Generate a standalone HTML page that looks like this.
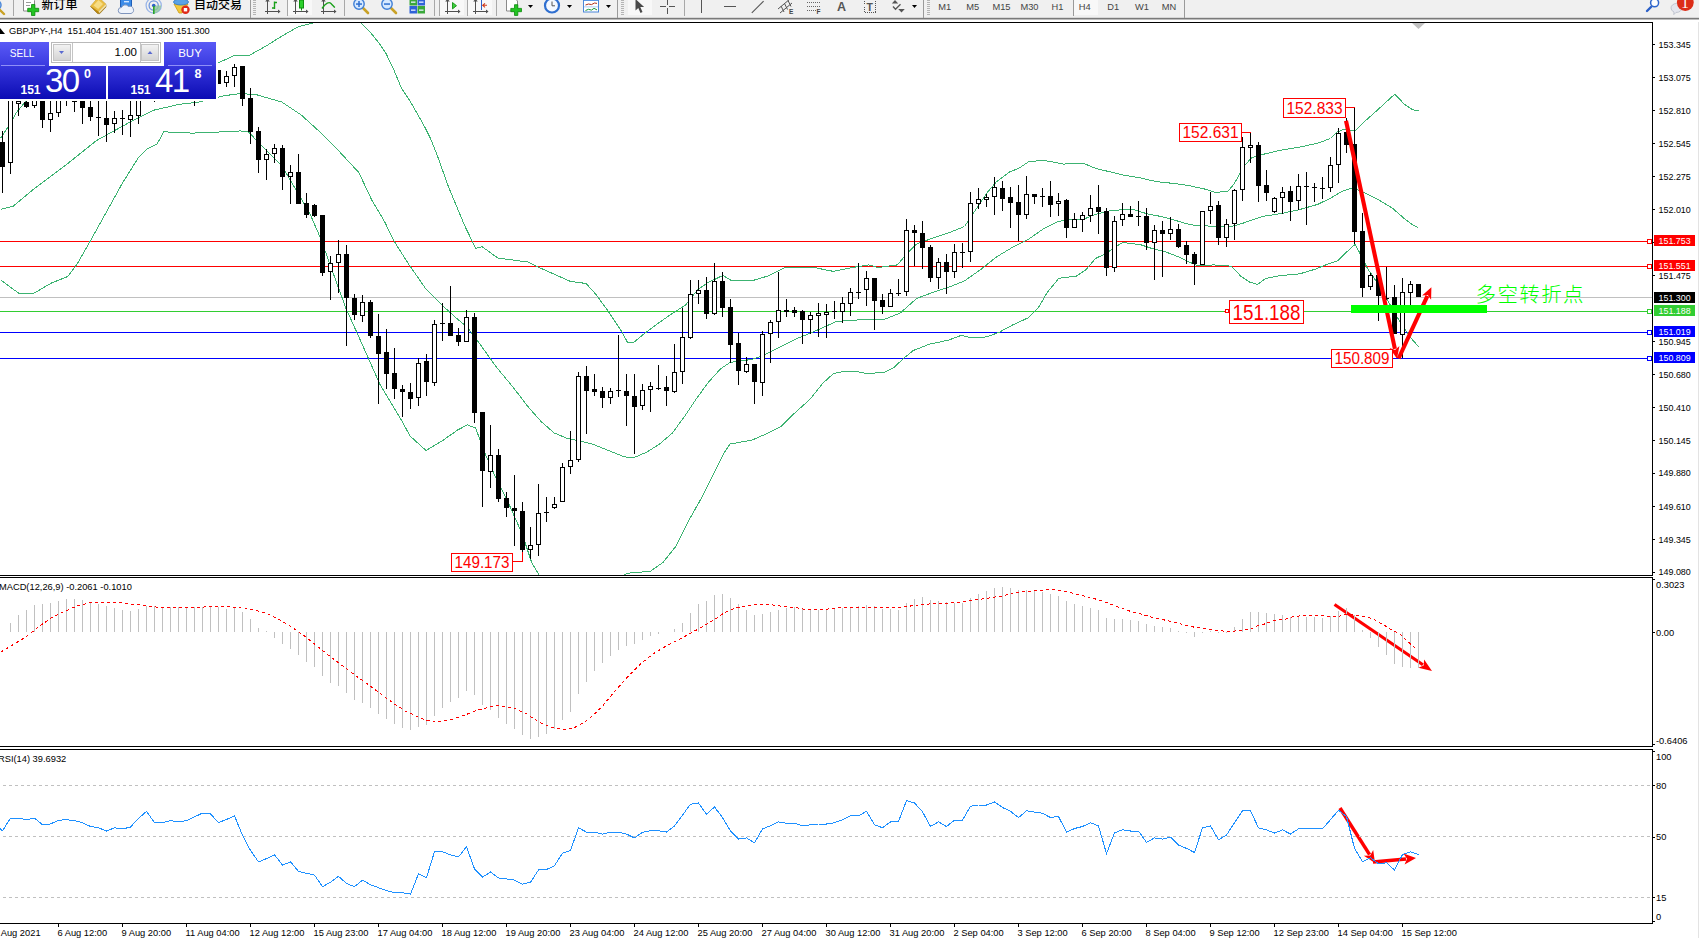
<!DOCTYPE html>
<html lang="zh"><head><meta charset="utf-8"><title>GBPJPY H4</title>
<style>
html,body{margin:0;padding:0;background:#fff;}
body{width:1699px;height:938px;overflow:hidden;position:relative;font-family:"Liberation Sans", "Noto Sans CJK SC", sans-serif;}
#tb{position:absolute;left:0;top:0;width:1699px;height:22px;background:#fff;overflow:hidden;}
#tb .bg{position:absolute;left:0;top:0;width:100%;height:18px;background:#f0f0f0;}
#tb .l1{position:absolute;left:0;top:17px;width:100%;height:1px;background:#d8d8d8;}
#tb .l2{position:absolute;left:0;top:18px;width:100%;height:1px;background:#7a7a7a;}
#tb .l3{position:absolute;left:0;top:19px;width:100%;height:1px;background:#bdbdbd;}
#chart{position:absolute;left:0;top:0;}
#chart text{font-family:"Liberation Sans", "Noto Sans CJK SC", sans-serif;}
.zh{position:absolute;top:-1.7px;font-size:12px;line-height:14px;color:#000;white-space:nowrap;font-weight:500;}
.tf{position:absolute;top:1.6px;font-size:9.3px;line-height:11px;color:#444;transform:translateX(-50%);white-space:nowrap;}
#oct{position:absolute;left:0;top:42px;width:218px;height:59px;background:#fff;}
#oct .btn{position:absolute;color:#fff;text-align:center;}
.grad1{background:linear-gradient(#5a5af6,#3a3ae0);}
.grad2{background:linear-gradient(#3636dc,#0c0cb4);}
</style></head><body>
<svg id="chart" width="1699" height="938" viewBox="0 0 1699 938">
<defs><clipPath id="mainclip"><rect x="0" y="23" width="1652" height="552"/></clipPath></defs>
<g shape-rendering="crispEdges">
<rect x="0" y="22" width="1653" height="1" fill="#000"/>
<rect x="1652" y="22" width="1" height="554" fill="#000"/>
<rect x="0" y="575" width="1653" height="1" fill="#000"/>
<rect x="0" y="577" width="1653" height="1" fill="#000"/>
<rect x="1652" y="577" width="1" height="170" fill="#000"/>
<rect x="0" y="746" width="1653" height="1" fill="#000"/>
<rect x="0" y="749" width="1653" height="1" fill="#000"/>
<rect x="1652" y="749" width="1" height="175" fill="#000"/>
<rect x="0" y="923" width="1653" height="1" fill="#000"/>
<rect x="1698" y="20" width="1" height="918" fill="#e3e3e3"/>
<rect x="0" y="241" width="1652" height="1" fill="#ff0000"/>
<rect x="0" y="266" width="1652" height="1" fill="#ff0000"/>
<rect x="0" y="297" width="1652" height="1" fill="#c0c0c0"/>
<rect x="0" y="311" width="1652" height="1" fill="#32cd32"/>
<rect x="0" y="332" width="1652" height="1" fill="#0000ff"/>
<rect x="0" y="358" width="1652" height="1" fill="#0000ff"/>
</g>
<g clip-path="url(#mainclip)">
<polyline points="0.5,138.1 8.5,126.5 16.5,112.5 25.5,101.5 40.5,92.5 80.5,85.5 140.5,76.5 190.5,68.5 216.5,63.7 234.0,55.7 250.0,55.0 266.0,46.1 278.5,38.1 298.0,26.9 312.5,23.1 320.5,19.5 340.5,15.5 355.5,18.5 362.0,24.0 370.5,32.5 379.8,44.1 386.0,53.4 393.7,69.6 401.5,88.2 409.2,99.7 416.9,112.9 424.6,126.8 430.8,139.2 437.0,154.6 448.5,186.9 464.5,225.3 475.7,248.3 482.1,246.7 498.1,258.2 509.3,259.5 528.5,262.1 541.3,268.5 570.1,281.3 586.1,283.5 595.7,294.1 608.5,311.7 621.3,330.9 627.7,342.7 634.1,342.1 643.7,334.1 656.5,324.5 672.5,313.3 685.3,305.3 698.0,289.3 707.5,282.9 720.5,276.5 723.5,275.8 731.5,280.6 752.5,280.6 768.5,275.8 784.5,267.8 803.5,267.2 816.5,267.8 826.0,270.1 833.3,271.3 852.5,267.5 868.5,264.9 878.1,267.5 897.3,264.9 906.9,253.7 916.5,244.1 929.3,239.3 948.5,232.9 964.5,226.5 977.3,207.3 986.9,192.9 996.5,181.7 1009.3,172.1 1018.9,168.3 1028.5,161.9 1041.3,160.3 1050.9,161.5 1063.7,164.1 1082.9,163.1 1095.5,168.3 1108.5,171.5 1124.5,175.3 1140.5,177.9 1156.5,181.7 1172.5,183.3 1188.5,185.5 1204.5,189.0 1216.0,192.5 1228.3,191.0 1234.5,183.3 1243.8,166.3 1251.5,157.9 1262.4,154.5 1280.9,150.2 1299.5,147.1 1318.0,143.1 1330.5,138.5 1336.5,132.3 1344.3,129.2 1355.2,130.7 1361.3,124.5 1376.8,110.6 1394.7,94.2 1404.6,104.4 1412.4,109.7 1418.5,110.9" fill="none" stroke="#3cb371" stroke-width="1" shape-rendering="crispEdges"/>
<polyline points="0.5,209.3 13.3,206.1 32.5,190.1 64.5,166.1 96.5,140.5 128.5,122.9 154.1,110.1 179.5,104.3 198.9,102.1 224.5,95.7 240.5,93.5 256.5,94.7 282.0,102.1 301.2,114.9 320.5,132.5 339.5,151.7 358.8,172.5 372.0,200.5 384.5,221.5 394.3,241.5 408.4,263.8 414.5,272.5 426.1,289.3 442.1,305.3 458.1,319.7 467.5,327.3 480.5,344.9 496.5,367.3 512.5,386.5 528.5,407.3 541.3,421.7 554.1,432.9 566.9,438.3 579.5,440.9 592.5,444.1 608.5,450.5 624.5,456.9 634.1,457.5 646.9,452.1 659.5,444.1 672.5,432.9 685.3,415.3 694.9,400.9 707.5,383.3 720.5,368.9 730.0,362.5 752.5,359.3 762.0,356.1 778.0,348.1 797.2,338.5 816.5,330.5 830.5,324.1 836.5,321.5 858.9,319.9 884.5,319.3 900.5,312.9 916.5,298.5 929.3,293.7 948.5,287.3 964.5,280.9 980.5,269.7 996.5,256.9 1012.5,247.3 1028.5,239.3 1044.5,228.1 1057.3,221.7 1066.9,220.1 1082.9,219.5 1095.5,214.3 1108.5,211.1 1124.5,209.5 1134.0,209.8 1146.8,213.7 1159.5,216.2 1172.5,219.5 1185.2,223.3 1194.8,225.5 1204.5,225.8 1217.2,226.5 1231.5,226.5 1243.8,222.9 1262.4,216.4 1280.9,213.6 1299.5,209.6 1318.0,204.3 1330.5,198.1 1342.8,191.0 1352.1,187.9 1361.3,191.0 1376.8,198.8 1392.3,208.0 1404.6,218.9 1413.9,225.7 1418.5,227.5" fill="none" stroke="#3cb371" stroke-width="1" shape-rendering="crispEdges"/>
<polyline points="0.5,279.7 19.7,294.0 34.1,293.1 51.7,282.9 67.7,276.5 77.3,263.7 90.1,241.3 106.1,212.5 122.1,183.7 138.1,158.1 147.7,148.5 157.3,143.7 163.7,131.8 192.5,133.1 224.5,131.8 240.5,130.9 248.5,131.8 256.5,140.5 266.0,150.1 282.0,166.1 298.0,193.3 310.8,215.7 320.5,238.1 333.2,273.3 346.0,308.5 360.5,340.5 380.5,385.5 400.5,418.5 410.1,436.1 426.1,450.5 442.1,440.9 458.1,429.7 467.5,424.9 475.7,428.1 483.7,450.5 496.5,479.3 509.3,504.9 522.1,533.7 531.7,562.5 538.7,574.5 545.5,580.5 600.5,585.5 618.5,580.5 624.5,574.5 630.9,572.7 650.1,571.5 662.9,562.5 675.7,546.5 688.5,520.9 701.2,498.5 714.0,472.9 723.5,453.7 730.0,444.1 752.5,439.9 768.5,432.9 781.2,426.5 794.0,413.7 810.0,399.3 822.8,383.3 833.3,373.7 842.9,371.5 855.7,371.5 868.5,373.7 884.5,372.1 894.1,367.3 903.7,358.3 913.3,350.5 929.3,344.2 948.5,340.1 961.3,335.3 970.9,337.8 986.9,336.9 999.5,332.1 1012.5,325.0 1028.5,317.7 1038.1,308.1 1047.5,292.1 1058.8,278.3 1076.5,276.1 1086.0,269.7 1095.5,258.5 1106.8,253.0 1114.8,247.3 1122.8,242.5 1140.5,244.7 1153.2,248.9 1166.0,252.1 1178.8,256.9 1188.5,261.7 1198.0,265.8 1214.0,264.9 1231.5,266.2 1240.7,276.1 1250.0,282.3 1257.7,284.4 1265.5,278.6 1280.9,275.5 1299.5,273.9 1314.9,269.3 1327.3,264.3 1338.1,260.6 1347.4,251.3 1355.2,244.2 1361.3,256.0 1367.5,268.4 1376.8,282.3 1386.1,297.7 1398.5,319.4 1410.8,337.9 1418.5,346.6" fill="none" stroke="#3cb371" stroke-width="1" shape-rendering="crispEdges"/>
</g>
<g shape-rendering="crispEdges" clip-path="url(#mainclip)">
<rect x="2" y="131" width="1" height="62" fill="#000"/>
<rect x="0" y="142" width="5" height="25" fill="#000"/>
<rect x="10" y="90" width="1" height="84" fill="#000"/>
<rect x="8" y="92" width="5" height="71" fill="#000"/>
<rect x="9" y="93" width="3" height="69" fill="#fff"/>
<rect x="18" y="90" width="1" height="26" fill="#000"/>
<rect x="16" y="101" width="5" height="3" fill="#000"/>
<rect x="17" y="102" width="3" height="1" fill="#fff"/>
<rect x="26" y="97" width="1" height="11" fill="#000"/>
<rect x="24" y="102" width="5" height="5" fill="#000"/>
<rect x="34" y="90" width="1" height="18" fill="#000"/>
<rect x="32" y="92" width="5" height="14" fill="#000"/>
<rect x="33" y="93" width="3" height="12" fill="#fff"/>
<rect x="42" y="90" width="1" height="38" fill="#000"/>
<rect x="40" y="95" width="5" height="25" fill="#000"/>
<rect x="50" y="90" width="1" height="42" fill="#000"/>
<rect x="48" y="113" width="5" height="7" fill="#000"/>
<rect x="49" y="114" width="3" height="5" fill="#fff"/>
<rect x="58" y="90" width="1" height="27" fill="#000"/>
<rect x="56" y="95" width="5" height="18" fill="#000"/>
<rect x="57" y="96" width="3" height="16" fill="#fff"/>
<rect x="66" y="90" width="1" height="16" fill="#000"/>
<rect x="64" y="92" width="5" height="4" fill="#000"/>
<rect x="74" y="96" width="1" height="16" fill="#000"/>
<rect x="72" y="101" width="5" height="1" fill="#000"/>
<rect x="82" y="95" width="1" height="29" fill="#000"/>
<rect x="80" y="98" width="5" height="10" fill="#000"/>
<rect x="90" y="97" width="1" height="24" fill="#000"/>
<rect x="88" y="107" width="5" height="10" fill="#000"/>
<rect x="98" y="95" width="1" height="41" fill="#000"/>
<rect x="96" y="117" width="5" height="1" fill="#000"/>
<rect x="106" y="95" width="1" height="47" fill="#000"/>
<rect x="104" y="118" width="5" height="7" fill="#000"/>
<rect x="114" y="111" width="1" height="22" fill="#000"/>
<rect x="112" y="118" width="5" height="6" fill="#000"/>
<rect x="113" y="119" width="3" height="4" fill="#fff"/>
<rect x="122" y="110" width="1" height="25" fill="#000"/>
<rect x="120" y="118" width="5" height="1" fill="#000"/>
<rect x="130" y="95" width="1" height="42" fill="#000"/>
<rect x="128" y="115" width="5" height="5" fill="#000"/>
<rect x="129" y="116" width="3" height="3" fill="#fff"/>
<rect x="138" y="90" width="1" height="34" fill="#000"/>
<rect x="136" y="95" width="5" height="21" fill="#000"/>
<rect x="137" y="96" width="3" height="19" fill="#fff"/>
<rect x="146" y="80" width="1" height="16" fill="#000"/>
<rect x="144" y="84" width="5" height="8" fill="#000"/>
<rect x="154" y="80" width="1" height="22" fill="#000"/>
<rect x="152" y="86" width="5" height="6" fill="#000"/>
<rect x="153" y="87" width="3" height="4" fill="#fff"/>
<rect x="162" y="78" width="1" height="17" fill="#000"/>
<rect x="160" y="82" width="5" height="8" fill="#000"/>
<rect x="170" y="76" width="1" height="17" fill="#000"/>
<rect x="168" y="80" width="5" height="8" fill="#000"/>
<rect x="169" y="81" width="3" height="6" fill="#fff"/>
<rect x="178" y="75" width="1" height="20" fill="#000"/>
<rect x="176" y="80" width="5" height="6" fill="#000"/>
<rect x="186" y="76" width="1" height="20" fill="#000"/>
<rect x="184" y="82" width="5" height="6" fill="#000"/>
<rect x="185" y="83" width="3" height="4" fill="#fff"/>
<rect x="194" y="76" width="1" height="30" fill="#000"/>
<rect x="192" y="84" width="5" height="6" fill="#000"/>
<rect x="202" y="74" width="1" height="18" fill="#000"/>
<rect x="200" y="78" width="5" height="8" fill="#000"/>
<rect x="201" y="79" width="3" height="6" fill="#fff"/>
<rect x="210" y="68" width="1" height="20" fill="#000"/>
<rect x="208" y="72" width="5" height="8" fill="#000"/>
<rect x="209" y="73" width="3" height="6" fill="#fff"/>
<rect x="218" y="70" width="1" height="14" fill="#000"/>
<rect x="216" y="70" width="5" height="14" fill="#000"/>
<rect x="226" y="71" width="1" height="16" fill="#000"/>
<rect x="224" y="76" width="5" height="7" fill="#000"/>
<rect x="225" y="77" width="3" height="5" fill="#fff"/>
<rect x="234" y="64" width="1" height="23" fill="#000"/>
<rect x="232" y="67" width="5" height="9" fill="#000"/>
<rect x="233" y="68" width="3" height="7" fill="#fff"/>
<rect x="242" y="66" width="1" height="40" fill="#000"/>
<rect x="240" y="66" width="5" height="33" fill="#000"/>
<rect x="250" y="88" width="1" height="56" fill="#000"/>
<rect x="248" y="98" width="5" height="34" fill="#000"/>
<rect x="258" y="127" width="1" height="46" fill="#000"/>
<rect x="256" y="131" width="5" height="29" fill="#000"/>
<rect x="266" y="149" width="1" height="31" fill="#000"/>
<rect x="264" y="154" width="5" height="6" fill="#000"/>
<rect x="265" y="155" width="3" height="4" fill="#fff"/>
<rect x="274" y="144" width="1" height="19" fill="#000"/>
<rect x="272" y="148" width="5" height="6" fill="#000"/>
<rect x="273" y="149" width="3" height="4" fill="#fff"/>
<rect x="282" y="145" width="1" height="45" fill="#000"/>
<rect x="280" y="148" width="5" height="29" fill="#000"/>
<rect x="290" y="165" width="1" height="39" fill="#000"/>
<rect x="288" y="172" width="5" height="5" fill="#000"/>
<rect x="289" y="173" width="3" height="3" fill="#fff"/>
<rect x="298" y="154" width="1" height="50" fill="#000"/>
<rect x="296" y="172" width="5" height="32" fill="#000"/>
<rect x="306" y="193" width="1" height="25" fill="#000"/>
<rect x="304" y="203" width="5" height="12" fill="#000"/>
<rect x="314" y="204" width="1" height="13" fill="#000"/>
<rect x="312" y="205" width="5" height="11" fill="#000"/>
<rect x="322" y="215" width="1" height="61" fill="#000"/>
<rect x="320" y="215" width="5" height="58" fill="#000"/>
<rect x="330" y="256" width="1" height="44" fill="#000"/>
<rect x="328" y="263" width="5" height="9" fill="#000"/>
<rect x="329" y="264" width="3" height="7" fill="#fff"/>
<rect x="338" y="240" width="1" height="53" fill="#000"/>
<rect x="336" y="254" width="5" height="9" fill="#000"/>
<rect x="337" y="255" width="3" height="7" fill="#fff"/>
<rect x="346" y="245" width="1" height="101" fill="#000"/>
<rect x="344" y="254" width="5" height="44" fill="#000"/>
<rect x="354" y="294" width="1" height="26" fill="#000"/>
<rect x="352" y="298" width="5" height="17" fill="#000"/>
<rect x="362" y="295" width="1" height="27" fill="#000"/>
<rect x="360" y="302" width="5" height="14" fill="#000"/>
<rect x="361" y="303" width="3" height="12" fill="#fff"/>
<rect x="370" y="300" width="1" height="38" fill="#000"/>
<rect x="368" y="302" width="5" height="34" fill="#000"/>
<rect x="378" y="314" width="1" height="90" fill="#000"/>
<rect x="376" y="336" width="5" height="18" fill="#000"/>
<rect x="386" y="329" width="1" height="60" fill="#000"/>
<rect x="384" y="352" width="5" height="22" fill="#000"/>
<rect x="394" y="348" width="1" height="51" fill="#000"/>
<rect x="392" y="373" width="5" height="16" fill="#000"/>
<rect x="402" y="385" width="1" height="32" fill="#000"/>
<rect x="400" y="389" width="5" height="3" fill="#000"/>
<rect x="410" y="383" width="1" height="26" fill="#000"/>
<rect x="408" y="392" width="5" height="7" fill="#000"/>
<rect x="418" y="358" width="1" height="48" fill="#000"/>
<rect x="416" y="363" width="5" height="35" fill="#000"/>
<rect x="417" y="364" width="3" height="33" fill="#fff"/>
<rect x="426" y="354" width="1" height="42" fill="#000"/>
<rect x="424" y="361" width="5" height="21" fill="#000"/>
<rect x="434" y="320" width="1" height="66" fill="#000"/>
<rect x="432" y="324" width="5" height="59" fill="#000"/>
<rect x="433" y="325" width="3" height="57" fill="#fff"/>
<rect x="442" y="303" width="1" height="38" fill="#000"/>
<rect x="440" y="323" width="5" height="1" fill="#000"/>
<rect x="450" y="286" width="1" height="50" fill="#000"/>
<rect x="448" y="323" width="5" height="13" fill="#000"/>
<rect x="458" y="328" width="1" height="18" fill="#000"/>
<rect x="456" y="335" width="5" height="7" fill="#000"/>
<rect x="466" y="310" width="1" height="32" fill="#000"/>
<rect x="464" y="317" width="5" height="25" fill="#000"/>
<rect x="465" y="318" width="3" height="23" fill="#fff"/>
<rect x="474" y="313" width="1" height="110" fill="#000"/>
<rect x="472" y="317" width="5" height="96" fill="#000"/>
<rect x="482" y="412" width="1" height="95" fill="#000"/>
<rect x="480" y="412" width="5" height="59" fill="#000"/>
<rect x="490" y="425" width="1" height="63" fill="#000"/>
<rect x="488" y="455" width="5" height="17" fill="#000"/>
<rect x="489" y="456" width="3" height="15" fill="#fff"/>
<rect x="498" y="449" width="1" height="53" fill="#000"/>
<rect x="496" y="455" width="5" height="44" fill="#000"/>
<rect x="506" y="492" width="1" height="25" fill="#000"/>
<rect x="504" y="498" width="5" height="10" fill="#000"/>
<rect x="514" y="475" width="1" height="71" fill="#000"/>
<rect x="512" y="508" width="5" height="3" fill="#000"/>
<rect x="522" y="502" width="1" height="59" fill="#000"/>
<rect x="520" y="511" width="5" height="39" fill="#000"/>
<rect x="530" y="527" width="1" height="32" fill="#000"/>
<rect x="528" y="545" width="5" height="5" fill="#000"/>
<rect x="529" y="546" width="3" height="3" fill="#fff"/>
<rect x="538" y="484" width="1" height="72" fill="#000"/>
<rect x="536" y="513" width="5" height="32" fill="#000"/>
<rect x="537" y="514" width="3" height="30" fill="#fff"/>
<rect x="546" y="497" width="1" height="25" fill="#000"/>
<rect x="544" y="512" width="5" height="1" fill="#000"/>
<rect x="554" y="497" width="1" height="12" fill="#000"/>
<rect x="552" y="504" width="5" height="4" fill="#000"/>
<rect x="553" y="505" width="3" height="2" fill="#fff"/>
<rect x="562" y="463" width="1" height="39" fill="#000"/>
<rect x="560" y="467" width="5" height="35" fill="#000"/>
<rect x="561" y="468" width="3" height="33" fill="#fff"/>
<rect x="570" y="431" width="1" height="43" fill="#000"/>
<rect x="568" y="460" width="5" height="7" fill="#000"/>
<rect x="569" y="461" width="3" height="5" fill="#fff"/>
<rect x="578" y="372" width="1" height="90" fill="#000"/>
<rect x="576" y="376" width="5" height="84" fill="#000"/>
<rect x="577" y="377" width="3" height="82" fill="#fff"/>
<rect x="586" y="366" width="1" height="68" fill="#000"/>
<rect x="584" y="376" width="5" height="15" fill="#000"/>
<rect x="594" y="374" width="1" height="22" fill="#000"/>
<rect x="592" y="389" width="5" height="3" fill="#000"/>
<rect x="602" y="387" width="1" height="21" fill="#000"/>
<rect x="600" y="391" width="5" height="7" fill="#000"/>
<rect x="610" y="388" width="1" height="16" fill="#000"/>
<rect x="608" y="391" width="5" height="7" fill="#000"/>
<rect x="609" y="392" width="3" height="5" fill="#fff"/>
<rect x="618" y="335" width="1" height="62" fill="#000"/>
<rect x="616" y="390" width="5" height="1" fill="#000"/>
<rect x="626" y="374" width="1" height="52" fill="#000"/>
<rect x="624" y="391" width="5" height="5" fill="#000"/>
<rect x="634" y="374" width="1" height="80" fill="#000"/>
<rect x="632" y="396" width="5" height="11" fill="#000"/>
<rect x="642" y="384" width="1" height="26" fill="#000"/>
<rect x="640" y="390" width="5" height="16" fill="#000"/>
<rect x="641" y="391" width="3" height="14" fill="#fff"/>
<rect x="650" y="382" width="1" height="30" fill="#000"/>
<rect x="648" y="386" width="5" height="4" fill="#000"/>
<rect x="649" y="387" width="3" height="2" fill="#fff"/>
<rect x="658" y="365" width="1" height="25" fill="#000"/>
<rect x="656" y="388" width="5" height="1" fill="#000"/>
<rect x="666" y="376" width="1" height="30" fill="#000"/>
<rect x="664" y="387" width="5" height="4" fill="#000"/>
<rect x="674" y="344" width="1" height="49" fill="#000"/>
<rect x="672" y="372" width="5" height="20" fill="#000"/>
<rect x="673" y="373" width="3" height="18" fill="#fff"/>
<rect x="682" y="308" width="1" height="76" fill="#000"/>
<rect x="680" y="337" width="5" height="35" fill="#000"/>
<rect x="681" y="338" width="3" height="33" fill="#fff"/>
<rect x="690" y="280" width="1" height="59" fill="#000"/>
<rect x="688" y="294" width="5" height="44" fill="#000"/>
<rect x="689" y="295" width="3" height="42" fill="#fff"/>
<rect x="698" y="280" width="1" height="24" fill="#000"/>
<rect x="696" y="290" width="5" height="4" fill="#000"/>
<rect x="697" y="291" width="3" height="2" fill="#fff"/>
<rect x="706" y="277" width="1" height="42" fill="#000"/>
<rect x="704" y="290" width="5" height="24" fill="#000"/>
<rect x="714" y="263" width="1" height="52" fill="#000"/>
<rect x="712" y="281" width="5" height="33" fill="#000"/>
<rect x="713" y="282" width="3" height="31" fill="#fff"/>
<rect x="722" y="272" width="1" height="45" fill="#000"/>
<rect x="720" y="281" width="5" height="27" fill="#000"/>
<rect x="730" y="299" width="1" height="64" fill="#000"/>
<rect x="728" y="307" width="5" height="38" fill="#000"/>
<rect x="738" y="333" width="1" height="52" fill="#000"/>
<rect x="736" y="343" width="5" height="28" fill="#000"/>
<rect x="746" y="357" width="1" height="16" fill="#000"/>
<rect x="744" y="364" width="5" height="8" fill="#000"/>
<rect x="745" y="365" width="3" height="6" fill="#fff"/>
<rect x="754" y="364" width="1" height="40" fill="#000"/>
<rect x="752" y="364" width="5" height="18" fill="#000"/>
<rect x="762" y="331" width="1" height="65" fill="#000"/>
<rect x="760" y="334" width="5" height="49" fill="#000"/>
<rect x="761" y="335" width="3" height="47" fill="#fff"/>
<rect x="770" y="320" width="1" height="43" fill="#000"/>
<rect x="768" y="322" width="5" height="12" fill="#000"/>
<rect x="769" y="323" width="3" height="10" fill="#fff"/>
<rect x="778" y="272" width="1" height="66" fill="#000"/>
<rect x="776" y="310" width="5" height="12" fill="#000"/>
<rect x="777" y="311" width="3" height="10" fill="#fff"/>
<rect x="786" y="299" width="1" height="18" fill="#000"/>
<rect x="784" y="310" width="5" height="2" fill="#000"/>
<rect x="794" y="307" width="1" height="10" fill="#000"/>
<rect x="792" y="310" width="5" height="3" fill="#000"/>
<rect x="802" y="310" width="1" height="34" fill="#000"/>
<rect x="800" y="311" width="5" height="9" fill="#000"/>
<rect x="810" y="312" width="1" height="22" fill="#000"/>
<rect x="808" y="315" width="5" height="5" fill="#000"/>
<rect x="809" y="316" width="3" height="3" fill="#fff"/>
<rect x="818" y="303" width="1" height="34" fill="#000"/>
<rect x="816" y="313" width="5" height="3" fill="#000"/>
<rect x="817" y="314" width="3" height="1" fill="#fff"/>
<rect x="826" y="304" width="1" height="34" fill="#000"/>
<rect x="824" y="312" width="5" height="3" fill="#000"/>
<rect x="825" y="313" width="3" height="1" fill="#fff"/>
<rect x="834" y="301" width="1" height="18" fill="#000"/>
<rect x="832" y="311" width="5" height="1" fill="#000"/>
<rect x="842" y="297" width="1" height="26" fill="#000"/>
<rect x="840" y="303" width="5" height="9" fill="#000"/>
<rect x="841" y="304" width="3" height="7" fill="#fff"/>
<rect x="850" y="288" width="1" height="28" fill="#000"/>
<rect x="848" y="292" width="5" height="12" fill="#000"/>
<rect x="849" y="293" width="3" height="10" fill="#fff"/>
<rect x="858" y="263" width="1" height="36" fill="#000"/>
<rect x="856" y="292" width="5" height="1" fill="#000"/>
<rect x="866" y="271" width="1" height="35" fill="#000"/>
<rect x="864" y="278" width="5" height="12" fill="#000"/>
<rect x="865" y="279" width="3" height="10" fill="#fff"/>
<rect x="874" y="278" width="1" height="52" fill="#000"/>
<rect x="872" y="278" width="5" height="23" fill="#000"/>
<rect x="882" y="294" width="1" height="20" fill="#000"/>
<rect x="880" y="300" width="5" height="7" fill="#000"/>
<rect x="890" y="289" width="1" height="18" fill="#000"/>
<rect x="888" y="293" width="5" height="14" fill="#000"/>
<rect x="889" y="294" width="3" height="12" fill="#fff"/>
<rect x="898" y="279" width="1" height="17" fill="#000"/>
<rect x="896" y="293" width="5" height="1" fill="#000"/>
<rect x="906" y="219" width="1" height="77" fill="#000"/>
<rect x="904" y="230" width="5" height="62" fill="#000"/>
<rect x="905" y="231" width="3" height="60" fill="#fff"/>
<rect x="914" y="225" width="1" height="41" fill="#000"/>
<rect x="912" y="230" width="5" height="3" fill="#000"/>
<rect x="922" y="221" width="1" height="48" fill="#000"/>
<rect x="920" y="233" width="5" height="15" fill="#000"/>
<rect x="930" y="245" width="1" height="37" fill="#000"/>
<rect x="928" y="247" width="5" height="31" fill="#000"/>
<rect x="938" y="258" width="1" height="31" fill="#000"/>
<rect x="936" y="262" width="5" height="16" fill="#000"/>
<rect x="937" y="263" width="3" height="14" fill="#fff"/>
<rect x="946" y="254" width="1" height="40" fill="#000"/>
<rect x="944" y="262" width="5" height="10" fill="#000"/>
<rect x="954" y="244" width="1" height="34" fill="#000"/>
<rect x="952" y="252" width="5" height="20" fill="#000"/>
<rect x="953" y="253" width="3" height="18" fill="#fff"/>
<rect x="962" y="243" width="1" height="25" fill="#000"/>
<rect x="960" y="252" width="5" height="1" fill="#000"/>
<rect x="970" y="192" width="1" height="70" fill="#000"/>
<rect x="968" y="203" width="5" height="49" fill="#000"/>
<rect x="969" y="204" width="3" height="47" fill="#fff"/>
<rect x="978" y="188" width="1" height="21" fill="#000"/>
<rect x="976" y="199" width="5" height="5" fill="#000"/>
<rect x="977" y="200" width="3" height="3" fill="#fff"/>
<rect x="986" y="194" width="1" height="13" fill="#000"/>
<rect x="984" y="197" width="5" height="3" fill="#000"/>
<rect x="985" y="198" width="3" height="1" fill="#fff"/>
<rect x="994" y="177" width="1" height="38" fill="#000"/>
<rect x="992" y="187" width="5" height="10" fill="#000"/>
<rect x="993" y="188" width="3" height="8" fill="#fff"/>
<rect x="1002" y="181" width="1" height="30" fill="#000"/>
<rect x="1000" y="188" width="5" height="11" fill="#000"/>
<rect x="1010" y="187" width="1" height="41" fill="#000"/>
<rect x="1008" y="197" width="5" height="6" fill="#000"/>
<rect x="1018" y="185" width="1" height="56" fill="#000"/>
<rect x="1016" y="202" width="5" height="13" fill="#000"/>
<rect x="1026" y="176" width="1" height="43" fill="#000"/>
<rect x="1024" y="194" width="5" height="21" fill="#000"/>
<rect x="1025" y="195" width="3" height="19" fill="#fff"/>
<rect x="1034" y="194" width="1" height="10" fill="#000"/>
<rect x="1032" y="194" width="5" height="3" fill="#000"/>
<rect x="1042" y="188" width="1" height="19" fill="#000"/>
<rect x="1040" y="196" width="5" height="1" fill="#000"/>
<rect x="1050" y="181" width="1" height="36" fill="#000"/>
<rect x="1048" y="196" width="5" height="9" fill="#000"/>
<rect x="1058" y="193" width="1" height="23" fill="#000"/>
<rect x="1056" y="201" width="5" height="3" fill="#000"/>
<rect x="1057" y="202" width="3" height="1" fill="#fff"/>
<rect x="1066" y="199" width="1" height="39" fill="#000"/>
<rect x="1064" y="200" width="5" height="28" fill="#000"/>
<rect x="1074" y="213" width="1" height="15" fill="#000"/>
<rect x="1072" y="219" width="5" height="9" fill="#000"/>
<rect x="1073" y="220" width="3" height="7" fill="#fff"/>
<rect x="1082" y="212" width="1" height="20" fill="#000"/>
<rect x="1080" y="215" width="5" height="5" fill="#000"/>
<rect x="1081" y="216" width="3" height="3" fill="#fff"/>
<rect x="1090" y="195" width="1" height="27" fill="#000"/>
<rect x="1088" y="208" width="5" height="8" fill="#000"/>
<rect x="1089" y="209" width="3" height="6" fill="#fff"/>
<rect x="1098" y="185" width="1" height="49" fill="#000"/>
<rect x="1096" y="207" width="5" height="5" fill="#000"/>
<rect x="1106" y="208" width="1" height="68" fill="#000"/>
<rect x="1104" y="211" width="5" height="57" fill="#000"/>
<rect x="1114" y="216" width="1" height="56" fill="#000"/>
<rect x="1112" y="221" width="5" height="47" fill="#000"/>
<rect x="1113" y="222" width="3" height="45" fill="#fff"/>
<rect x="1122" y="203" width="1" height="23" fill="#000"/>
<rect x="1120" y="214" width="5" height="6" fill="#000"/>
<rect x="1121" y="215" width="3" height="4" fill="#fff"/>
<rect x="1130" y="206" width="1" height="11" fill="#000"/>
<rect x="1128" y="214" width="5" height="3" fill="#000"/>
<rect x="1138" y="201" width="1" height="25" fill="#000"/>
<rect x="1136" y="216" width="5" height="1" fill="#000"/>
<rect x="1146" y="208" width="1" height="42" fill="#000"/>
<rect x="1144" y="216" width="5" height="27" fill="#000"/>
<rect x="1154" y="225" width="1" height="55" fill="#000"/>
<rect x="1152" y="230" width="5" height="13" fill="#000"/>
<rect x="1153" y="231" width="3" height="11" fill="#fff"/>
<rect x="1162" y="221" width="1" height="56" fill="#000"/>
<rect x="1160" y="230" width="5" height="4" fill="#000"/>
<rect x="1170" y="217" width="1" height="23" fill="#000"/>
<rect x="1168" y="229" width="5" height="5" fill="#000"/>
<rect x="1169" y="230" width="3" height="3" fill="#fff"/>
<rect x="1178" y="224" width="1" height="24" fill="#000"/>
<rect x="1176" y="229" width="5" height="18" fill="#000"/>
<rect x="1186" y="241" width="1" height="23" fill="#000"/>
<rect x="1184" y="245" width="5" height="10" fill="#000"/>
<rect x="1194" y="252" width="1" height="33" fill="#000"/>
<rect x="1192" y="254" width="5" height="10" fill="#000"/>
<rect x="1202" y="211" width="1" height="54" fill="#000"/>
<rect x="1200" y="211" width="5" height="54" fill="#000"/>
<rect x="1201" y="212" width="3" height="52" fill="#fff"/>
<rect x="1210" y="192" width="1" height="32" fill="#000"/>
<rect x="1208" y="206" width="5" height="5" fill="#000"/>
<rect x="1209" y="207" width="3" height="3" fill="#fff"/>
<rect x="1218" y="201" width="1" height="44" fill="#000"/>
<rect x="1216" y="205" width="5" height="33" fill="#000"/>
<rect x="1226" y="219" width="1" height="28" fill="#000"/>
<rect x="1224" y="224" width="5" height="14" fill="#000"/>
<rect x="1225" y="225" width="3" height="12" fill="#fff"/>
<rect x="1234" y="189" width="1" height="51" fill="#000"/>
<rect x="1232" y="190" width="5" height="34" fill="#000"/>
<rect x="1233" y="191" width="3" height="32" fill="#fff"/>
<rect x="1242" y="137" width="1" height="64" fill="#000"/>
<rect x="1240" y="147" width="5" height="43" fill="#000"/>
<rect x="1241" y="148" width="3" height="41" fill="#fff"/>
<rect x="1250" y="133" width="1" height="30" fill="#000"/>
<rect x="1248" y="145" width="5" height="3" fill="#000"/>
<rect x="1249" y="146" width="3" height="1" fill="#fff"/>
<rect x="1258" y="142" width="1" height="60" fill="#000"/>
<rect x="1256" y="145" width="5" height="41" fill="#000"/>
<rect x="1266" y="170" width="1" height="31" fill="#000"/>
<rect x="1264" y="185" width="5" height="8" fill="#000"/>
<rect x="1274" y="197" width="1" height="16" fill="#000"/>
<rect x="1272" y="198" width="5" height="14" fill="#000"/>
<rect x="1273" y="199" width="3" height="12" fill="#fff"/>
<rect x="1282" y="187" width="1" height="27" fill="#000"/>
<rect x="1280" y="192" width="5" height="6" fill="#000"/>
<rect x="1281" y="193" width="3" height="4" fill="#fff"/>
<rect x="1290" y="186" width="1" height="35" fill="#000"/>
<rect x="1288" y="191" width="5" height="11" fill="#000"/>
<rect x="1298" y="174" width="1" height="36" fill="#000"/>
<rect x="1296" y="186" width="5" height="15" fill="#000"/>
<rect x="1297" y="187" width="3" height="13" fill="#fff"/>
<rect x="1306" y="172" width="1" height="53" fill="#000"/>
<rect x="1304" y="186" width="5" height="1" fill="#000"/>
<rect x="1314" y="183" width="1" height="19" fill="#000"/>
<rect x="1312" y="187" width="5" height="1" fill="#000"/>
<rect x="1322" y="177" width="1" height="22" fill="#000"/>
<rect x="1320" y="188" width="5" height="1" fill="#000"/>
<rect x="1330" y="157" width="1" height="35" fill="#000"/>
<rect x="1328" y="165" width="5" height="23" fill="#000"/>
<rect x="1329" y="166" width="3" height="21" fill="#fff"/>
<rect x="1338" y="128" width="1" height="55" fill="#000"/>
<rect x="1336" y="133" width="5" height="32" fill="#000"/>
<rect x="1337" y="134" width="3" height="30" fill="#fff"/>
<rect x="1346" y="118" width="1" height="35" fill="#000"/>
<rect x="1344" y="132" width="5" height="13" fill="#000"/>
<rect x="1354" y="107" width="1" height="137" fill="#000"/>
<rect x="1352" y="144" width="5" height="88" fill="#000"/>
<rect x="1362" y="213" width="1" height="84" fill="#000"/>
<rect x="1360" y="231" width="5" height="57" fill="#000"/>
<rect x="1370" y="273" width="1" height="17" fill="#000"/>
<rect x="1368" y="275" width="5" height="12" fill="#000"/>
<rect x="1369" y="276" width="3" height="10" fill="#fff"/>
<rect x="1378" y="275" width="1" height="46" fill="#000"/>
<rect x="1376" y="275" width="5" height="21" fill="#000"/>
<rect x="1386" y="267" width="1" height="33" fill="#000"/>
<rect x="1384" y="298" width="5" height="1" fill="#000"/>
<rect x="1394" y="285" width="1" height="49" fill="#000"/>
<rect x="1392" y="297" width="5" height="37" fill="#000"/>
<rect x="1402" y="278" width="1" height="80" fill="#000"/>
<rect x="1400" y="292" width="5" height="43" fill="#000"/>
<rect x="1401" y="293" width="3" height="41" fill="#fff"/>
<rect x="1410" y="281" width="1" height="24" fill="#000"/>
<rect x="1408" y="284" width="5" height="9" fill="#000"/>
<rect x="1409" y="285" width="3" height="7" fill="#fff"/>
<rect x="1418" y="284" width="1" height="13" fill="#000"/>
<rect x="1416" y="284" width="5" height="13" fill="#000"/>
</g>
<g shape-rendering="crispEdges" fill="#fff">
<rect x="1647.5" y="239.5" width="4" height="4" stroke="#ff0000" stroke-width="1"/>
<rect x="1647.5" y="264.5" width="4" height="4" stroke="#ff0000" stroke-width="1"/>
<rect x="1647.5" y="309.5" width="4" height="4" stroke="#32cd32" stroke-width="1"/>
<rect x="1647.5" y="330.5" width="4" height="4" stroke="#0000ff" stroke-width="1"/>
<rect x="1647.5" y="356.5" width="4" height="4" stroke="#0000ff" stroke-width="1"/>
</g>
<line x1="1346.0" y1="120.7" x2="1394.9" y2="348.9" stroke="#ff0000" stroke-width="4.1" stroke-linecap="butt"/><polygon points="1397.0,358.7 1389.6,348.0 1395.1,349.9 1399.4,345.9" fill="#ff0000"/>
<line x1="1398.6" y1="358.5" x2="1427.4" y2="295.8" stroke="#ff0000" stroke-width="4.1" stroke-linecap="butt"/><polygon points="1431.4,287.2 1431.1,299.7 1427.8,294.9 1422.1,295.6" fill="#ff0000"/>
<rect x="1351" y="305" width="136" height="8" fill="#00ff00" shape-rendering="crispEdges"/>
<rect x="451.5" y="553.5" width="61" height="18" fill="#fff" stroke="#ff0000" stroke-width="1" shape-rendering="crispEdges"/>
<text x="482.0" y="568.4" font-size="17" fill="#ff0000" text-anchor="middle" textLength="55" lengthAdjust="spacingAndGlyphs">149.173</text>
<polyline points="512.5,561.5 522.5,561.5 522.5,552" stroke="#ff0000" stroke-width="1" fill="none" shape-rendering="crispEdges"/>
<rect x="1179.5" y="123.5" width="62" height="18" fill="#fff" stroke="#ff0000" stroke-width="1" shape-rendering="crispEdges"/>
<text x="1210.5" y="138.4" font-size="17" fill="#ff0000" text-anchor="middle" textLength="56" lengthAdjust="spacingAndGlyphs">152.631</text>
<polyline points="1241.5,132.5 1250.5,132.5" stroke="#ff0000" stroke-width="1" fill="none" shape-rendering="crispEdges"/>
<rect x="1283.5" y="98.5" width="62" height="19" fill="#fff" stroke="#ff0000" stroke-width="1" shape-rendering="crispEdges"/>
<text x="1314.5" y="113.9" font-size="17" fill="#ff0000" text-anchor="middle" textLength="56" lengthAdjust="spacingAndGlyphs">152.833</text>
<polyline points="1345.5,107.5 1354.5,107.5" stroke="#ff0000" stroke-width="1" fill="none" shape-rendering="crispEdges"/>
<rect x="1331.5" y="349.5" width="61" height="18" fill="#fff" stroke="#ff0000" stroke-width="1" shape-rendering="crispEdges"/>
<text x="1362.0" y="364.4" font-size="17" fill="#ff0000" text-anchor="middle" textLength="55" lengthAdjust="spacingAndGlyphs">150.809</text>
<polyline points="1224,311.5 1229,311.5" stroke="#ff0000" stroke-width="1" fill="none" shape-rendering="crispEdges"/>
<rect x="1225.5" y="309.5" width="3" height="3" fill="#fff" stroke="#ff0000" stroke-width="1"  shape-rendering="crispEdges"/>
<rect x="1229.5" y="300.5" width="74" height="23" fill="#fff" stroke="#ff0000" stroke-width="1" shape-rendering="crispEdges"/>
<text x="1266.5" y="319.7" font-size="22" fill="#ff0000" text-anchor="middle" textLength="68" lengthAdjust="spacingAndGlyphs">151.188</text>
<line x1="1334.5" y1="604.5" x2="1422.9" y2="664.8" stroke="#ff0000" stroke-width="3.1" stroke-linecap="butt"/><polygon points="1432.0,671.0 1418.4,667.8 1423.7,665.4 1424.1,659.5" fill="#ff0000"/>
<line x1="1340.0" y1="808.0" x2="1369.6" y2="854.6" stroke="#ff0000" stroke-width="3.5" stroke-linecap="butt"/><polygon points="1375.0,863.0 1363.9,855.8 1370.2,855.4 1373.2,849.9" fill="#ff0000"/>
<line x1="1373.0" y1="862.0" x2="1406.0" y2="858.9" stroke="#ff0000" stroke-width="3.5" stroke-linecap="butt"/><polygon points="1416.0,858.0 1404.6,864.6 1407.0,858.8 1403.5,853.6" fill="#ff0000"/>
<polygon points="1412,23 1425,23 1418.5,29" fill="#c0c0c0"/>
<polygon points="0,28 0,34 5,34" fill="#000"/>
<g shape-rendering="crispEdges">
<rect x="10" y="623" width="1" height="9" fill="#c0c0c0"/>
<rect x="18" y="615" width="1" height="17" fill="#c0c0c0"/>
<rect x="26" y="610" width="1" height="22" fill="#c0c0c0"/>
<rect x="34" y="605" width="1" height="27" fill="#c0c0c0"/>
<rect x="42" y="604" width="1" height="28" fill="#c0c0c0"/>
<rect x="50" y="603" width="1" height="29" fill="#c0c0c0"/>
<rect x="58" y="601" width="1" height="31" fill="#c0c0c0"/>
<rect x="66" y="599" width="1" height="33" fill="#c0c0c0"/>
<rect x="74" y="599" width="1" height="33" fill="#c0c0c0"/>
<rect x="82" y="600" width="1" height="32" fill="#c0c0c0"/>
<rect x="90" y="602" width="1" height="30" fill="#c0c0c0"/>
<rect x="98" y="604" width="1" height="28" fill="#c0c0c0"/>
<rect x="106" y="606" width="1" height="26" fill="#c0c0c0"/>
<rect x="114" y="608" width="1" height="24" fill="#c0c0c0"/>
<rect x="122" y="610" width="1" height="22" fill="#c0c0c0"/>
<rect x="130" y="611" width="1" height="21" fill="#c0c0c0"/>
<rect x="138" y="609" width="1" height="23" fill="#c0c0c0"/>
<rect x="146" y="606" width="1" height="26" fill="#c0c0c0"/>
<rect x="154" y="606" width="1" height="26" fill="#c0c0c0"/>
<rect x="162" y="607" width="1" height="25" fill="#c0c0c0"/>
<rect x="170" y="607" width="1" height="25" fill="#c0c0c0"/>
<rect x="178" y="607" width="1" height="25" fill="#c0c0c0"/>
<rect x="186" y="607" width="1" height="25" fill="#c0c0c0"/>
<rect x="194" y="607" width="1" height="25" fill="#c0c0c0"/>
<rect x="202" y="607" width="1" height="25" fill="#c0c0c0"/>
<rect x="210" y="607" width="1" height="25" fill="#c0c0c0"/>
<rect x="218" y="607" width="1" height="25" fill="#c0c0c0"/>
<rect x="226" y="609" width="1" height="23" fill="#c0c0c0"/>
<rect x="234" y="608" width="1" height="24" fill="#c0c0c0"/>
<rect x="242" y="612" width="1" height="20" fill="#c0c0c0"/>
<rect x="250" y="619" width="1" height="13" fill="#c0c0c0"/>
<rect x="258" y="628" width="1" height="4" fill="#c0c0c0"/>
<rect x="266" y="631" width="1" height="1" fill="#c0c0c0"/>
<rect x="274" y="632" width="1" height="6" fill="#c0c0c0"/>
<rect x="282" y="632" width="1" height="12" fill="#c0c0c0"/>
<rect x="290" y="632" width="1" height="17" fill="#c0c0c0"/>
<rect x="298" y="632" width="1" height="23" fill="#c0c0c0"/>
<rect x="306" y="632" width="1" height="30" fill="#c0c0c0"/>
<rect x="314" y="632" width="1" height="35" fill="#c0c0c0"/>
<rect x="322" y="632" width="1" height="44" fill="#c0c0c0"/>
<rect x="330" y="632" width="1" height="51" fill="#c0c0c0"/>
<rect x="338" y="632" width="1" height="54" fill="#c0c0c0"/>
<rect x="346" y="632" width="1" height="61" fill="#c0c0c0"/>
<rect x="354" y="632" width="1" height="68" fill="#c0c0c0"/>
<rect x="362" y="632" width="1" height="71" fill="#c0c0c0"/>
<rect x="370" y="632" width="1" height="76" fill="#c0c0c0"/>
<rect x="378" y="632" width="1" height="82" fill="#c0c0c0"/>
<rect x="386" y="632" width="1" height="87" fill="#c0c0c0"/>
<rect x="394" y="632" width="1" height="92" fill="#c0c0c0"/>
<rect x="402" y="632" width="1" height="96" fill="#c0c0c0"/>
<rect x="410" y="632" width="1" height="98" fill="#c0c0c0"/>
<rect x="418" y="632" width="1" height="95" fill="#c0c0c0"/>
<rect x="426" y="632" width="1" height="93" fill="#c0c0c0"/>
<rect x="434" y="632" width="1" height="84" fill="#c0c0c0"/>
<rect x="442" y="632" width="1" height="76" fill="#c0c0c0"/>
<rect x="450" y="632" width="1" height="70" fill="#c0c0c0"/>
<rect x="458" y="632" width="1" height="66" fill="#c0c0c0"/>
<rect x="466" y="632" width="1" height="59" fill="#c0c0c0"/>
<rect x="474" y="632" width="1" height="63" fill="#c0c0c0"/>
<rect x="482" y="632" width="1" height="73" fill="#c0c0c0"/>
<rect x="490" y="632" width="1" height="78" fill="#c0c0c0"/>
<rect x="498" y="632" width="1" height="86" fill="#c0c0c0"/>
<rect x="506" y="632" width="1" height="92" fill="#c0c0c0"/>
<rect x="514" y="632" width="1" height="97" fill="#c0c0c0"/>
<rect x="522" y="632" width="1" height="103" fill="#c0c0c0"/>
<rect x="530" y="632" width="1" height="107" fill="#c0c0c0"/>
<rect x="538" y="632" width="1" height="105" fill="#c0c0c0"/>
<rect x="546" y="632" width="1" height="102" fill="#c0c0c0"/>
<rect x="554" y="632" width="1" height="97" fill="#c0c0c0"/>
<rect x="562" y="632" width="1" height="88" fill="#c0c0c0"/>
<rect x="570" y="632" width="1" height="80" fill="#c0c0c0"/>
<rect x="578" y="632" width="1" height="62" fill="#c0c0c0"/>
<rect x="586" y="632" width="1" height="50" fill="#c0c0c0"/>
<rect x="594" y="632" width="1" height="39" fill="#c0c0c0"/>
<rect x="602" y="632" width="1" height="31" fill="#c0c0c0"/>
<rect x="610" y="632" width="1" height="24" fill="#c0c0c0"/>
<rect x="618" y="632" width="1" height="18" fill="#c0c0c0"/>
<rect x="626" y="632" width="1" height="14" fill="#c0c0c0"/>
<rect x="634" y="632" width="1" height="12" fill="#c0c0c0"/>
<rect x="642" y="632" width="1" height="8" fill="#c0c0c0"/>
<rect x="650" y="632" width="1" height="4" fill="#c0c0c0"/>
<rect x="658" y="632" width="1" height="2" fill="#c0c0c0"/>
<rect x="674" y="629" width="1" height="3" fill="#c0c0c0"/>
<rect x="682" y="623" width="1" height="9" fill="#c0c0c0"/>
<rect x="690" y="613" width="1" height="19" fill="#c0c0c0"/>
<rect x="698" y="604" width="1" height="28" fill="#c0c0c0"/>
<rect x="706" y="601" width="1" height="31" fill="#c0c0c0"/>
<rect x="714" y="595" width="1" height="37" fill="#c0c0c0"/>
<rect x="722" y="594" width="1" height="38" fill="#c0c0c0"/>
<rect x="730" y="598" width="1" height="34" fill="#c0c0c0"/>
<rect x="738" y="604" width="1" height="28" fill="#c0c0c0"/>
<rect x="746" y="610" width="1" height="22" fill="#c0c0c0"/>
<rect x="754" y="615" width="1" height="17" fill="#c0c0c0"/>
<rect x="762" y="614" width="1" height="18" fill="#c0c0c0"/>
<rect x="770" y="612" width="1" height="20" fill="#c0c0c0"/>
<rect x="778" y="610" width="1" height="22" fill="#c0c0c0"/>
<rect x="786" y="608" width="1" height="24" fill="#c0c0c0"/>
<rect x="794" y="607" width="1" height="25" fill="#c0c0c0"/>
<rect x="802" y="608" width="1" height="24" fill="#c0c0c0"/>
<rect x="810" y="609" width="1" height="23" fill="#c0c0c0"/>
<rect x="818" y="610" width="1" height="22" fill="#c0c0c0"/>
<rect x="826" y="609" width="1" height="23" fill="#c0c0c0"/>
<rect x="834" y="609" width="1" height="23" fill="#c0c0c0"/>
<rect x="842" y="608" width="1" height="24" fill="#c0c0c0"/>
<rect x="850" y="607" width="1" height="25" fill="#c0c0c0"/>
<rect x="858" y="606" width="1" height="26" fill="#c0c0c0"/>
<rect x="866" y="605" width="1" height="27" fill="#c0c0c0"/>
<rect x="874" y="606" width="1" height="26" fill="#c0c0c0"/>
<rect x="882" y="609" width="1" height="23" fill="#c0c0c0"/>
<rect x="890" y="609" width="1" height="23" fill="#c0c0c0"/>
<rect x="898" y="610" width="1" height="22" fill="#c0c0c0"/>
<rect x="906" y="603" width="1" height="29" fill="#c0c0c0"/>
<rect x="914" y="599" width="1" height="33" fill="#c0c0c0"/>
<rect x="922" y="597" width="1" height="35" fill="#c0c0c0"/>
<rect x="930" y="600" width="1" height="32" fill="#c0c0c0"/>
<rect x="938" y="601" width="1" height="31" fill="#c0c0c0"/>
<rect x="946" y="602" width="1" height="30" fill="#c0c0c0"/>
<rect x="954" y="603" width="1" height="29" fill="#c0c0c0"/>
<rect x="962" y="603" width="1" height="29" fill="#c0c0c0"/>
<rect x="970" y="598" width="1" height="34" fill="#c0c0c0"/>
<rect x="978" y="594" width="1" height="38" fill="#c0c0c0"/>
<rect x="986" y="591" width="1" height="41" fill="#c0c0c0"/>
<rect x="994" y="588" width="1" height="44" fill="#c0c0c0"/>
<rect x="1002" y="587" width="1" height="45" fill="#c0c0c0"/>
<rect x="1010" y="588" width="1" height="44" fill="#c0c0c0"/>
<rect x="1018" y="590" width="1" height="42" fill="#c0c0c0"/>
<rect x="1026" y="590" width="1" height="42" fill="#c0c0c0"/>
<rect x="1034" y="591" width="1" height="41" fill="#c0c0c0"/>
<rect x="1042" y="592" width="1" height="40" fill="#c0c0c0"/>
<rect x="1050" y="594" width="1" height="38" fill="#c0c0c0"/>
<rect x="1058" y="596" width="1" height="36" fill="#c0c0c0"/>
<rect x="1066" y="601" width="1" height="31" fill="#c0c0c0"/>
<rect x="1074" y="604" width="1" height="28" fill="#c0c0c0"/>
<rect x="1082" y="606" width="1" height="26" fill="#c0c0c0"/>
<rect x="1090" y="608" width="1" height="24" fill="#c0c0c0"/>
<rect x="1098" y="610" width="1" height="22" fill="#c0c0c0"/>
<rect x="1106" y="618" width="1" height="14" fill="#c0c0c0"/>
<rect x="1114" y="619" width="1" height="13" fill="#c0c0c0"/>
<rect x="1122" y="619" width="1" height="13" fill="#c0c0c0"/>
<rect x="1130" y="620" width="1" height="12" fill="#c0c0c0"/>
<rect x="1138" y="621" width="1" height="11" fill="#c0c0c0"/>
<rect x="1146" y="624" width="1" height="8" fill="#c0c0c0"/>
<rect x="1154" y="626" width="1" height="6" fill="#c0c0c0"/>
<rect x="1162" y="627" width="1" height="5" fill="#c0c0c0"/>
<rect x="1170" y="628" width="1" height="4" fill="#c0c0c0"/>
<rect x="1178" y="631" width="1" height="1" fill="#c0c0c0"/>
<rect x="1186" y="632" width="1" height="1" fill="#c0c0c0"/>
<rect x="1194" y="632" width="1" height="5" fill="#c0c0c0"/>
<rect x="1202" y="632" width="1" height="1" fill="#c0c0c0"/>
<rect x="1210" y="631" width="1" height="1" fill="#c0c0c0"/>
<rect x="1218" y="632" width="1" height="1" fill="#c0c0c0"/>
<rect x="1226" y="632" width="1" height="1" fill="#c0c0c0"/>
<rect x="1234" y="627" width="1" height="5" fill="#c0c0c0"/>
<rect x="1242" y="619" width="1" height="13" fill="#c0c0c0"/>
<rect x="1250" y="612" width="1" height="20" fill="#c0c0c0"/>
<rect x="1258" y="612" width="1" height="20" fill="#c0c0c0"/>
<rect x="1266" y="613" width="1" height="19" fill="#c0c0c0"/>
<rect x="1274" y="614" width="1" height="18" fill="#c0c0c0"/>
<rect x="1282" y="615" width="1" height="17" fill="#c0c0c0"/>
<rect x="1290" y="617" width="1" height="15" fill="#c0c0c0"/>
<rect x="1298" y="617" width="1" height="15" fill="#c0c0c0"/>
<rect x="1306" y="617" width="1" height="15" fill="#c0c0c0"/>
<rect x="1314" y="617" width="1" height="15" fill="#c0c0c0"/>
<rect x="1322" y="618" width="1" height="14" fill="#c0c0c0"/>
<rect x="1330" y="616" width="1" height="16" fill="#c0c0c0"/>
<rect x="1338" y="611" width="1" height="21" fill="#c0c0c0"/>
<rect x="1346" y="608" width="1" height="24" fill="#c0c0c0"/>
<rect x="1354" y="615" width="1" height="17" fill="#c0c0c0"/>
<rect x="1362" y="630" width="1" height="2" fill="#c0c0c0"/>
<rect x="1370" y="632" width="1" height="6" fill="#c0c0c0"/>
<rect x="1378" y="632" width="1" height="15" fill="#c0c0c0"/>
<rect x="1386" y="632" width="1" height="23" fill="#c0c0c0"/>
<rect x="1394" y="632" width="1" height="32" fill="#c0c0c0"/>
<rect x="1402" y="632" width="1" height="35" fill="#c0c0c0"/>
<rect x="1410" y="632" width="1" height="36" fill="#c0c0c0"/>
<rect x="1418" y="632" width="1" height="36" fill="#c0c0c0"/>
</g>
<polyline points="0.5,652.2 13.2,644.6 25.8,637.0 38.5,626.9 51.1,618.1 63.8,611.7 76.4,606.2 89.1,602.9 101.7,602.1 114.4,602.1 127.1,603.6 139.7,604.9 152.4,606.7 165.0,607.9 190.3,607.4 215.6,606.7 240.9,607.2 253.6,610.0 266.3,613.0 278.9,619.3 291.5,626.9 304.2,635.8 316.9,645.9 329.5,656.0 342.2,665.6 354.8,675.0 367.5,683.9 380.2,693.5 392.8,702.8 405.5,711.2 413.2,714.7 425.8,720.1 438.5,721.8 451.1,719.8 463.8,715.5 476.4,710.4 489.1,707.1 499.2,705.4 514.4,708.4 527.1,714.2 539.7,722.6 552.4,727.4 565.0,729.9 577.7,726.4 590.3,718.0 603.0,705.4 615.6,690.2 628.3,676.3 640.9,663.6 653.6,653.5 666.3,645.9 678.9,639.6 691.5,632.7 704.2,625.7 716.9,618.1 724.5,612.5 734.5,608.4 747.2,605.4 759.9,604.1 772.5,604.9 785.2,606.7 797.9,607.9 805.5,609.7 825.8,609.2 838.5,607.9 901.7,607.4 914.4,605.4 927.1,604.1 952.4,602.9 965.0,601.6 977.7,599.6 990.3,597.8 1003.0,595.8 1015.6,592.2 1028.3,591.5 1040.9,590.2 1053.6,589.7 1066.3,591.5 1078.9,594.8 1091.5,597.8 1104.2,601.6 1116.9,606.7 1129.5,611.0 1142.2,614.3 1154.8,618.1 1167.5,620.6 1180.2,623.9 1192.8,626.9 1205.5,628.9 1215.0,630.1 1228.5,631.6 1243.8,630.1 1251.5,628.7 1257.2,625.8 1264.9,623.9 1274.5,620.5 1284.1,619.5 1291.8,617.0 1305.2,615.1 1324.4,616.0 1339.7,616.0 1345.5,614.3 1360.8,615.7 1372.3,618.5 1381.9,623.9 1391.5,629.7 1401.1,634.9 1408.8,642.5 1415.5,648.3" fill="none" stroke="#ff0000" stroke-width="1" stroke-dasharray="3,3" shape-rendering="crispEdges"/>
<g shape-rendering="crispEdges">
<line x1="3" y1="785.5" x2="1652" y2="785.5" stroke="#c0c0c0" stroke-width="1" stroke-dasharray="3,3"/>
<line x1="3" y1="836.5" x2="1652" y2="836.5" stroke="#c0c0c0" stroke-width="1" stroke-dasharray="3,3"/>
<line x1="3" y1="897.5" x2="1652" y2="897.5" stroke="#c0c0c0" stroke-width="1" stroke-dasharray="3,3"/>
</g>
<polyline points="-5.5,824.0 2.5,830.8 10.5,818.1 18.5,818.1 26.5,819.7 34.5,818.1 42.5,824.7 50.5,824.0 58.5,820.2 66.5,819.7 74.5,820.7 82.5,822.7 90.5,826.5 98.5,827.8 106.5,831.0 114.5,827.8 122.5,829.0 130.5,827.0 138.5,818.4 146.5,811.3 154.5,822.7 162.5,822.7 170.5,820.7 178.5,821.9 186.5,820.7 194.5,816.9 202.5,813.1 210.5,813.8 218.5,822.7 226.5,819.4 234.5,815.9 242.5,835.3 250.5,850.5 258.5,861.9 266.5,858.6 274.5,854.8 282.5,865.0 290.5,861.9 298.5,871.3 306.5,873.3 314.5,875.1 322.5,886.7 330.5,882.2 338.5,876.3 346.5,883.4 354.5,886.7 362.5,880.1 370.5,884.7 378.5,887.7 386.5,890.5 394.5,892.8 402.5,892.8 410.5,894.1 418.5,873.8 426.5,877.6 434.5,851.8 442.5,851.8 450.5,854.8 458.5,856.9 466.5,846.7 474.5,868.8 482.5,877.1 490.5,872.1 498.5,877.9 506.5,878.9 514.5,880.1 522.5,884.2 530.5,882.2 538.5,870.0 546.5,869.5 554.5,865.7 562.5,853.1 570.5,850.5 578.5,827.8 586.5,832.1 594.5,832.1 602.5,834.1 610.5,832.1 618.5,832.1 626.5,834.1 634.5,837.9 642.5,832.3 650.5,830.8 658.5,830.8 666.5,832.1 674.5,826.0 682.5,815.1 690.5,804.2 698.5,803.0 706.5,814.3 714.5,807.0 722.5,817.6 730.5,831.0 738.5,839.1 746.5,837.9 754.5,842.9 762.5,829.0 770.5,825.7 778.5,821.9 786.5,823.2 794.5,823.2 802.5,826.0 810.5,824.7 818.5,824.0 826.5,824.0 834.5,822.7 842.5,819.7 850.5,815.9 858.5,815.9 866.5,811.3 874.5,824.7 882.5,827.8 890.5,821.9 898.5,821.4 906.5,800.7 914.5,803.0 922.5,811.8 930.5,826.5 938.5,821.9 946.5,826.5 954.5,820.2 962.5,820.2 970.5,806.2 978.5,805.0 986.5,805.0 994.5,801.9 1002.5,807.5 1010.5,811.3 1018.5,817.6 1026.5,810.8 1034.5,812.1 1042.5,813.3 1050.5,817.6 1058.5,816.4 1066.5,832.3 1074.5,828.5 1082.5,826.5 1090.5,822.7 1098.5,826.0 1106.5,853.6 1114.5,832.8 1122.5,829.8 1130.5,831.0 1138.5,831.0 1146.5,842.4 1154.5,837.9 1162.5,839.1 1170.5,837.1 1178.5,845.0 1186.5,848.4 1194.5,852.5 1202.5,827.8 1210.5,825.8 1218.5,839.8 1226.5,835.0 1234.5,822.7 1242.5,810.9 1250.5,810.9 1258.5,827.8 1266.5,829.9 1274.5,833.0 1282.5,829.9 1290.5,834.0 1298.5,828.9 1306.5,828.9 1314.5,828.9 1322.5,828.9 1330.5,819.6 1338.5,810.3 1346.5,816.5 1354.5,848.4 1362.5,861.8 1370.5,857.7 1378.5,863.8 1386.5,862.8 1394.5,870.0 1402.5,854.6 1410.5,851.9 1418.5,854.6" fill="none" stroke="#1e90ff" stroke-width="1" shape-rendering="crispEdges"/>
<g font-size="9.3" fill="#000">
<g shape-rendering="crispEdges">
<rect x="1653" y="44" width="2" height="1" fill="#000"/>
<rect x="1653" y="77" width="2" height="1" fill="#000"/>
<rect x="1653" y="110" width="2" height="1" fill="#000"/>
<rect x="1653" y="143" width="2" height="1" fill="#000"/>
<rect x="1653" y="176" width="2" height="1" fill="#000"/>
<rect x="1653" y="209" width="2" height="1" fill="#000"/>
<rect x="1653" y="275" width="2" height="1" fill="#000"/>
<rect x="1653" y="341" width="2" height="1" fill="#000"/>
<rect x="1653" y="374" width="2" height="1" fill="#000"/>
<rect x="1653" y="407" width="2" height="1" fill="#000"/>
<rect x="1653" y="440" width="2" height="1" fill="#000"/>
<rect x="1653" y="473" width="2" height="1" fill="#000"/>
<rect x="1653" y="506" width="2" height="1" fill="#000"/>
<rect x="1653" y="539" width="2" height="1" fill="#000"/>
<rect x="1653" y="572" width="2" height="1" fill="#000"/>
<rect x="1653" y="579" width="2" height="1" fill="#000"/>
<rect x="1653" y="242" width="1" height="1" fill="#000"/>
<rect x="1653" y="632" width="2" height="1" fill="#000"/>
<rect x="1653" y="744" width="2" height="1" fill="#000"/>
<rect x="1653" y="751" width="2" height="1" fill="#000"/>
<rect x="1653" y="785" width="2" height="1" fill="#000"/>
<rect x="1653" y="837" width="2" height="1" fill="#000"/>
<rect x="1653" y="897" width="2" height="1" fill="#000"/>
<rect x="1653" y="921" width="2" height="1" fill="#000"/>
</g>
<text x="1658.5" y="47.8" textLength="32.3" lengthAdjust="spacingAndGlyphs">153.345</text>
<text x="1658.5" y="81.2" textLength="32.3" lengthAdjust="spacingAndGlyphs">153.075</text>
<text x="1658.5" y="114.0" textLength="32.3" lengthAdjust="spacingAndGlyphs">152.810</text>
<text x="1658.5" y="146.8" textLength="32.3" lengthAdjust="spacingAndGlyphs">152.545</text>
<text x="1658.5" y="180.2" textLength="32.3" lengthAdjust="spacingAndGlyphs">152.275</text>
<text x="1658.5" y="212.9" textLength="32.3" lengthAdjust="spacingAndGlyphs">152.010</text>
<text x="1658.5" y="279.1" textLength="32.3" lengthAdjust="spacingAndGlyphs">151.475</text>
<text x="1658.5" y="344.7" textLength="32.3" lengthAdjust="spacingAndGlyphs">150.945</text>
<text x="1658.5" y="377.5" textLength="32.3" lengthAdjust="spacingAndGlyphs">150.680</text>
<text x="1658.5" y="410.9" textLength="32.3" lengthAdjust="spacingAndGlyphs">150.410</text>
<text x="1658.5" y="443.6" textLength="32.3" lengthAdjust="spacingAndGlyphs">150.145</text>
<text x="1658.5" y="476.4" textLength="32.3" lengthAdjust="spacingAndGlyphs">149.880</text>
<text x="1658.5" y="509.8" textLength="32.3" lengthAdjust="spacingAndGlyphs">149.610</text>
<text x="1658.5" y="542.6" textLength="32.3" lengthAdjust="spacingAndGlyphs">149.345</text>
<text x="1658.5" y="575.4" textLength="32.3" lengthAdjust="spacingAndGlyphs">149.080</text>
<text x="1656" y="588">0.3023</text><text x="1656" y="636">0.00</text><text x="1656" y="743.5">-0.6406</text>
<text x="1656" y="759.9">100</text>
<text x="1656" y="788.8">80</text>
<text x="1656" y="840.1">50</text>
<text x="1656" y="900.7">15</text>
<text x="1656" y="919.7">0</text>
</g>
<g font-size="9.3" fill="#fff">
<rect x="1654" y="235" width="41" height="11" fill="#ff0000" shape-rendering="crispEdges"/>
<text x="1658.6" y="244.2" textLength="32" lengthAdjust="spacingAndGlyphs">151.753</text>
<rect x="1654" y="260" width="41" height="11" fill="#ff0000" shape-rendering="crispEdges"/>
<text x="1658.6" y="269.2" textLength="32" lengthAdjust="spacingAndGlyphs">151.551</text>
<rect x="1654" y="292" width="41" height="11" fill="#000000" shape-rendering="crispEdges"/>
<text x="1658.6" y="301.2" textLength="32" lengthAdjust="spacingAndGlyphs">151.300</text>
<rect x="1654" y="305" width="41" height="11" fill="#32cd32" shape-rendering="crispEdges"/>
<text x="1658.6" y="314.2" textLength="32" lengthAdjust="spacingAndGlyphs">151.188</text>
<rect x="1654" y="326" width="41" height="11" fill="#0000ff" shape-rendering="crispEdges"/>
<text x="1658.6" y="335.2" textLength="32" lengthAdjust="spacingAndGlyphs">151.019</text>
<rect x="1654" y="352" width="41" height="11" fill="#0000ff" shape-rendering="crispEdges"/>
<text x="1658.6" y="361.2" textLength="32" lengthAdjust="spacingAndGlyphs">150.809</text>
</g>
<g font-size="9.3" fill="#000">
<text x="9" y="34" xml:space="preserve">GBPJPY-,H4  151.404 151.407 151.300 151.300</text>
<text x="-1" y="590">MACD(12,26,9) -0.2061 -0.1010</text>
<text x="-2" y="762">RSI(14) 39.6932</text>
<rect x="-6" y="924" width="1" height="3" fill="#000" shape-rendering="crispEdges"/>
<text x="-6.5" y="936">5 Aug 2021</text>
<rect x="58" y="924" width="1" height="3" fill="#000" shape-rendering="crispEdges"/>
<text x="57.5" y="936">6 Aug 12:00</text>
<rect x="122" y="924" width="1" height="3" fill="#000" shape-rendering="crispEdges"/>
<text x="121.5" y="936">9 Aug 20:00</text>
<rect x="186" y="924" width="1" height="3" fill="#000" shape-rendering="crispEdges"/>
<text x="185.5" y="936">11 Aug 04:00</text>
<rect x="250" y="924" width="1" height="3" fill="#000" shape-rendering="crispEdges"/>
<text x="249.5" y="936">12 Aug 12:00</text>
<rect x="314" y="924" width="1" height="3" fill="#000" shape-rendering="crispEdges"/>
<text x="313.5" y="936">15 Aug 23:00</text>
<rect x="378" y="924" width="1" height="3" fill="#000" shape-rendering="crispEdges"/>
<text x="377.5" y="936">17 Aug 04:00</text>
<rect x="442" y="924" width="1" height="3" fill="#000" shape-rendering="crispEdges"/>
<text x="441.5" y="936">18 Aug 12:00</text>
<rect x="506" y="924" width="1" height="3" fill="#000" shape-rendering="crispEdges"/>
<text x="505.5" y="936">19 Aug 20:00</text>
<rect x="570" y="924" width="1" height="3" fill="#000" shape-rendering="crispEdges"/>
<text x="569.5" y="936">23 Aug 04:00</text>
<rect x="634" y="924" width="1" height="3" fill="#000" shape-rendering="crispEdges"/>
<text x="633.5" y="936">24 Aug 12:00</text>
<rect x="698" y="924" width="1" height="3" fill="#000" shape-rendering="crispEdges"/>
<text x="697.5" y="936">25 Aug 20:00</text>
<rect x="762" y="924" width="1" height="3" fill="#000" shape-rendering="crispEdges"/>
<text x="761.5" y="936">27 Aug 04:00</text>
<rect x="826" y="924" width="1" height="3" fill="#000" shape-rendering="crispEdges"/>
<text x="825.5" y="936">30 Aug 12:00</text>
<rect x="890" y="924" width="1" height="3" fill="#000" shape-rendering="crispEdges"/>
<text x="889.5" y="936">31 Aug 20:00</text>
<rect x="954" y="924" width="1" height="3" fill="#000" shape-rendering="crispEdges"/>
<text x="953.5" y="936">2 Sep 04:00</text>
<rect x="1018" y="924" width="1" height="3" fill="#000" shape-rendering="crispEdges"/>
<text x="1017.5" y="936">3 Sep 12:00</text>
<rect x="1082" y="924" width="1" height="3" fill="#000" shape-rendering="crispEdges"/>
<text x="1081.5" y="936">6 Sep 20:00</text>
<rect x="1146" y="924" width="1" height="3" fill="#000" shape-rendering="crispEdges"/>
<text x="1145.5" y="936">8 Sep 04:00</text>
<rect x="1210" y="924" width="1" height="3" fill="#000" shape-rendering="crispEdges"/>
<text x="1209.5" y="936">9 Sep 12:00</text>
<rect x="1274" y="924" width="1" height="3" fill="#000" shape-rendering="crispEdges"/>
<text x="1273.5" y="936">12 Sep 23:00</text>
<rect x="1338" y="924" width="1" height="3" fill="#000" shape-rendering="crispEdges"/>
<text x="1337.5" y="936">14 Sep 04:00</text>
<rect x="1402" y="924" width="1" height="3" fill="#000" shape-rendering="crispEdges"/>
<text x="1401.5" y="936">15 Sep 12:00</text>
</g>
<text x="1475.5" y="301.5" font-size="20.5" fill="#00ff00" font-family='"Liberation Serif", "Noto Serif CJK SC", serif' font-weight="300" textLength="108">多空转折点</text>
</svg>
<div id="tb"><div class="bg"></div><div class="l1"></div><div class="l2"></div><div class="l3"></div>
<svg width="1699" height="18" viewBox="0 0 1699 18" style="position:absolute;left:0;top:0">
<circle cx="-3.5" cy="5" r="4.5" fill="#cfe4ff" stroke="#4a86d8" stroke-width="1.5"/><line x1="-0.5" y1="9.5" x2="4" y2="14" stroke="#c9a227" stroke-width="2.4" stroke-linecap="round"/>
<rect x="13" y="0" width="1" height="16" fill="#a8a8a8" shape-rendering="crispEdges"/>
<rect x="287" y="0" width="1" height="16" fill="#a8a8a8" shape-rendering="crispEdges"/>
<rect x="344" y="0" width="1" height="16" fill="#a8a8a8" shape-rendering="crispEdges"/>
<rect x="434" y="0" width="1" height="16" fill="#a8a8a8" shape-rendering="crispEdges"/>
<rect x="439" y="0" width="1" height="16" fill="#a8a8a8" shape-rendering="crispEdges"/>
<rect x="467" y="0" width="1" height="16" fill="#a8a8a8" shape-rendering="crispEdges"/>
<rect x="496" y="0" width="1" height="16" fill="#a8a8a8" shape-rendering="crispEdges"/>
<rect x="684" y="0" width="1" height="16" fill="#a8a8a8" shape-rendering="crispEdges"/>
<rect x="250" y="0" width="1" height="18" fill="#9a9a9a" shape-rendering="crispEdges"/>
<rect x="617" y="0" width="1" height="18" fill="#9a9a9a" shape-rendering="crispEdges"/>
<rect x="923" y="0" width="1" height="18" fill="#9a9a9a" shape-rendering="crispEdges"/>
<rect x="1184" y="0" width="1" height="18" fill="#9a9a9a" shape-rendering="crispEdges"/>
<rect x="1073" y="0" width="1" height="16" fill="#9a9a9a" shape-rendering="crispEdges"/>
<rect x="253" y="0" width="3" height="1" fill="#b4b4b4" shape-rendering="crispEdges"/>
<rect x="253" y="2" width="3" height="1" fill="#b4b4b4" shape-rendering="crispEdges"/>
<rect x="253" y="4" width="3" height="1" fill="#b4b4b4" shape-rendering="crispEdges"/>
<rect x="253" y="6" width="3" height="1" fill="#b4b4b4" shape-rendering="crispEdges"/>
<rect x="253" y="8" width="3" height="1" fill="#b4b4b4" shape-rendering="crispEdges"/>
<rect x="253" y="10" width="3" height="1" fill="#b4b4b4" shape-rendering="crispEdges"/>
<rect x="253" y="12" width="3" height="1" fill="#b4b4b4" shape-rendering="crispEdges"/>
<rect x="253" y="14" width="3" height="1" fill="#b4b4b4" shape-rendering="crispEdges"/>
<rect x="621" y="0" width="3" height="1" fill="#b4b4b4" shape-rendering="crispEdges"/>
<rect x="621" y="2" width="3" height="1" fill="#b4b4b4" shape-rendering="crispEdges"/>
<rect x="621" y="4" width="3" height="1" fill="#b4b4b4" shape-rendering="crispEdges"/>
<rect x="621" y="6" width="3" height="1" fill="#b4b4b4" shape-rendering="crispEdges"/>
<rect x="621" y="8" width="3" height="1" fill="#b4b4b4" shape-rendering="crispEdges"/>
<rect x="621" y="10" width="3" height="1" fill="#b4b4b4" shape-rendering="crispEdges"/>
<rect x="621" y="12" width="3" height="1" fill="#b4b4b4" shape-rendering="crispEdges"/>
<rect x="621" y="14" width="3" height="1" fill="#b4b4b4" shape-rendering="crispEdges"/>
<rect x="927" y="0" width="3" height="1" fill="#b4b4b4" shape-rendering="crispEdges"/>
<rect x="927" y="2" width="3" height="1" fill="#b4b4b4" shape-rendering="crispEdges"/>
<rect x="927" y="4" width="3" height="1" fill="#b4b4b4" shape-rendering="crispEdges"/>
<rect x="927" y="6" width="3" height="1" fill="#b4b4b4" shape-rendering="crispEdges"/>
<rect x="927" y="8" width="3" height="1" fill="#b4b4b4" shape-rendering="crispEdges"/>
<rect x="927" y="10" width="3" height="1" fill="#b4b4b4" shape-rendering="crispEdges"/>
<rect x="927" y="12" width="3" height="1" fill="#b4b4b4" shape-rendering="crispEdges"/>
<rect x="927" y="14" width="3" height="1" fill="#b4b4b4" shape-rendering="crispEdges"/>
<rect x="288" y="0" width="24" height="15" fill="#f8f8f8"/>
<rect x="440" y="0" width="24" height="15" fill="#f8f8f8"/>
<rect x="468" y="0" width="24" height="15" fill="#f8f8f8"/>
<rect x="628" y="0" width="24" height="15" fill="#f8f8f8"/>
<rect x="1074" y="0" width="24" height="15" fill="#f8f8f8"/>
<path d="M23.5,-2 h8.5 l2.5,2.5 v10.5 h-11z" fill="#fff" stroke="#8a8a8a" stroke-width="1"/><rect x="26" y="2" width="5" height="1" fill="#9a9a9a"/><rect x="26" y="5" width="4" height="1" fill="#9a9a9a"/>
<path d="M31.5,4.5 h3.4 v3.8 h3.8 v3.4 h-3.8 v3.8 h-3.4 v-3.8 h-3.8 v-3.4 h3.8z" fill="#22c422" stroke="#0d8a0d" stroke-width="0.8"/>
<path d="M90.5,6.5 L98.5,-2.5 L106,4.5 L106,7 L99.5,13.8 L97.5,13.5 Z" fill="#b8860f" stroke="#8f6a0c" stroke-width="0.6"/><path d="M90.5,6 L98.5,-3 L105.8,4 L98.5,11.5 Z" fill="#e9bd45"/><path d="M93.5,5.5 L98.5,0 L103,4 L98.2,9 Z" fill="#f6dc84"/><path d="M98.5,11.5 L105.8,4 L106,6.3 L99.3,13 Z" fill="#f1e3b0"/>
<rect x="120.5" y="-2" width="11" height="9" fill="#3b8be8" stroke="#1f5fb8" stroke-width="1"/><rect x="124" y="1" width="5" height="1.4" fill="#cfe4ff"/>
<path d="M121,13.5 a3,3 0 0 1 0.5,-6 a4,4 0 0 1 7,-1 a3.3,3.3 0 0 1 2.5,7 z" fill="#eef3fb" stroke="#7f95bd" stroke-width="1"/>
<circle cx="153.7" cy="5.5" r="7.6" fill="none" stroke="#9ab6e8" stroke-width="1.3"/><circle cx="153.7" cy="5.5" r="4.6" fill="none" stroke="#6f96dc" stroke-width="1.3"/><path d="M153.7,5.5 v8 a8,8 0 0 0 7.5,-8 z" fill="#8fc79a" opacity="0.8"/><circle cx="153.7" cy="5.5" r="1.8" fill="#2f62c8"/><rect x="153" y="6" width="1.6" height="8" fill="#2aa52a"/>
<path d="M174,4 h14 l-6,9 h-3z" fill="#f2c93a" stroke="#c99a14" stroke-width="0.8"/><ellipse cx="181" cy="2" rx="7.5" ry="3" fill="#5aa2e6" stroke="#2f76c2" stroke-width="0.8"/><circle cx="185.5" cy="9.7" r="4.2" fill="#e02a18"/><rect x="183.8" y="8" width="3.4" height="3.4" fill="#fff"/>
<g fill="#505050" shape-rendering="crispEdges"><rect x="267" y="0" width="1" height="14"/><rect x="265" y="11" width="14" height="1"/></g><path d="M278,9.5 l2.5,2 l-2.5,2z M265.2,1.5 l2.3,-2.8 l2.3,2.8z" fill="#505050"/>
<path d="M274.5,1.5 v7.5 M274.5,2.5 h2.5 M272,8 h2.5" stroke="#18a018" stroke-width="1.4" fill="none"/>
<g fill="#505050" shape-rendering="crispEdges"><rect x="295" y="0" width="1" height="14"/><rect x="293" y="11" width="14" height="1"/></g><path d="M306,9.5 l2.5,2 l-2.5,2z M293.2,1.5 l2.3,-2.8 l2.3,2.8z" fill="#505050"/>
<rect x="299.5" y="0" width="4" height="8" fill="#2bd02b" stroke="#0f8f0f" stroke-width="1"/><rect x="301" y="8" width="1" height="2.5" fill="#0f8f0f"/>
<g fill="#505050" shape-rendering="crispEdges"><rect x="323" y="0" width="1" height="14"/><rect x="321" y="11" width="14" height="1"/></g><path d="M334,9.5 l2.5,2 l-2.5,2z M321.2,1.5 l2.3,-2.8 l2.3,2.8z" fill="#505050"/>
<path d="M322,8.5 C326,3 329,1.5 331,3.5 S334,7 335,7.5" stroke="#18a018" stroke-width="1.3" fill="none"/>
<line x1="363" y1="8" x2="368" y2="13" stroke="#c9a227" stroke-width="2.6" stroke-linecap="round"/>
<circle cx="359" cy="4" r="5.2" fill="#d6e9ff" stroke="#3f7fd6" stroke-width="1.4"/>
<rect x="356" y="3.3" width="6" height="1.5" fill="#2f6fd0"/>
<rect x="358.25" y="1" width="1.5" height="6" fill="#2f6fd0"/>
<line x1="391" y1="8" x2="396" y2="13" stroke="#c9a227" stroke-width="2.6" stroke-linecap="round"/>
<circle cx="387" cy="4" r="5.2" fill="#d6e9ff" stroke="#3f7fd6" stroke-width="1.4"/>
<rect x="384" y="3.3" width="6" height="1.5" fill="#2f6fd0"/>
<rect x="409.5" y="-1" width="7.5" height="6.5" fill="#3aa83a"/><rect x="417.5" y="-1" width="7.5" height="6.5" fill="#2f62d8"/><rect x="409.5" y="6" width="7.5" height="7.5" fill="#2f62d8"/><rect x="417.5" y="6" width="7.5" height="7.5" fill="#3aa83a"/>
<g fill="#e8f0ff"><rect x="411" y="1.5" width="4.5" height="1.3"/><rect x="419" y="1.5" width="4.5" height="1.3"/><rect x="411" y="9.5" width="4.5" height="1.3"/><rect x="419" y="9.5" width="4.5" height="1.3"/></g>
<g fill="#505050" shape-rendering="crispEdges"><rect x="447" y="0" width="1" height="14"/><rect x="445" y="11" width="14" height="1"/></g><path d="M458,9.5 l2.5,2 l-2.5,2z M445.2,1.5 l2.3,-2.8 l2.3,2.8z" fill="#505050"/>
<path d="M452.5,2.5 l4,3.2 l-4,3.2z" fill="#3fd03f" stroke="#139313" stroke-width="0.9"/>
<g fill="#505050" shape-rendering="crispEdges"><rect x="475" y="0" width="1" height="14"/><rect x="473" y="11" width="14" height="1"/></g><path d="M486,9.5 l2.5,2 l-2.5,2z M473.2,1.5 l2.3,-2.8 l2.3,2.8z" fill="#505050"/>
<rect x="481" y="0" width="1" height="10" fill="#2f62c8"/><path d="M487,5.3 h-4 M485,3.3 l-2.3,2 l2.3,2" stroke="#d03a1a" stroke-width="1.1" fill="none"/>
<path d="M506.5,-2 h8 l3,3 v10 h-11z" fill="#fff" stroke="#8a8a8a" stroke-width="1"/>
<path d="M514.5,4.7 h3.3 v3.7 h3.7 v3.3 h-3.7 v3.7 h-3.3 v-3.7 h-3.7 v-3.3 h3.7z" fill="#22c422" stroke="#0d8a0d" stroke-width="0.8"/>
<path d="M528,5 h5 l-2.5,3z" fill="#000"/>
<path d="M567,5 h5 l-2.5,3z" fill="#000"/>
<path d="M606,5 h5 l-2.5,3z" fill="#000"/>
<path d="M912,5 h5 l-2.5,3z" fill="#000"/>
<circle cx="552" cy="5.5" r="7" fill="#f4f8ff" stroke="#2f6fd0" stroke-width="2.2"/><path d="M552,1.5 v4.3 h3" stroke="#555" stroke-width="1" fill="none"/>
<rect x="583.5" y="-1" width="15" height="13" fill="#fff" stroke="#4a86d8" stroke-width="1"/><rect x="584" y="-1" width="14" height="2" fill="#5b97e6"/><path d="M585.5,5 l3,-1 l3,0.6 l3,-1.6 l2.5,0.4" stroke="#b0301a" stroke-width="1" fill="none"/><path d="M585.5,10.5 l3,-1.2 l3,0.8 l2.5,-1.8 l3,1.6" stroke="#1f9a3a" stroke-width="1" fill="none"/><rect x="584" y="6.5" width="14" height="0.8" fill="#9cc0f0"/>
<path d="M635.5,-1 v11.5 l2.8,-2.6 l2.2,5 l2,-0.9 l-2.2,-4.9 h3.8z" fill="#4a4a4a"/>
<g fill="#555" shape-rendering="crispEdges"><rect x="667" y="0" width="1" height="14"/><rect x="660" y="6" width="15" height="1"/></g><rect x="666" y="5" width="3" height="3" fill="#f0f0f0"/>
<g fill="#555" shape-rendering="crispEdges"><rect x="701" y="0" width="1" height="13"/><rect x="724" y="6" width="12" height="1"/></g>
<line x1="751.8" y1="12.9" x2="763.6" y2="1.2" stroke="#555" stroke-width="1.1"/>
<g stroke="#555" stroke-width="1" fill="none"><line x1="778" y1="9" x2="790" y2="-1"/><line x1="780" y1="13" x2="792" y2="3"/><line x1="781" y1="6" x2="784" y2="12"/><line x1="784.5" y1="3.5" x2="787.5" y2="9.5"/><line x1="788" y1="0.5" x2="791" y2="6.5"/></g>
<g fill="#666" shape-rendering="crispEdges"><rect x="807" y="2" width="1" height="1"/><rect x="809" y="2" width="1" height="1"/><rect x="811" y="2" width="1" height="1"/><rect x="813" y="2" width="1" height="1"/><rect x="815" y="2" width="1" height="1"/><rect x="817" y="2" width="1" height="1"/><rect x="819" y="2" width="1" height="1"/><rect x="807" y="6" width="1" height="1"/><rect x="809" y="6" width="1" height="1"/><rect x="811" y="6" width="1" height="1"/><rect x="813" y="6" width="1" height="1"/><rect x="815" y="6" width="1" height="1"/><rect x="817" y="6" width="1" height="1"/><rect x="819" y="6" width="1" height="1"/><rect x="807" y="10" width="1" height="1"/><rect x="809" y="10" width="1" height="1"/><rect x="811" y="10" width="1" height="1"/><rect x="813" y="10" width="1" height="1"/><rect x="815" y="10" width="1" height="1"/></g>
<path d="M895,0 l3.2,3.5 h-6.4z M901.5,12.5 l3.3,-3.6 h-6.6z" fill="#555"/><path d="M893,6.5 l2.5,2.8 l5,-5" stroke="#555" stroke-width="1.3" fill="none"/>
<rect x="864.5" y="-0.5" width="11" height="13" fill="none" stroke="#555" stroke-width="1" stroke-dasharray="1,1" shape-rendering="crispEdges"/>
<line x1="1651" y1="7" x2="1647" y2="11" stroke="#2a5fc8" stroke-width="2.4" stroke-linecap="round"/><circle cx="1654.6" cy="2.8" r="4" fill="#fff" stroke="#2f66cc" stroke-width="1.5"/>
<path d="M1671,8 a5.5,4.5 0 0 1 11,0 a5.5,4.5 0 0 1 -6,4.4 l-2.2,2.2 l0.2,-2.6 a5,4.5 0 0 1 -3,-4z" fill="#e4e6ee" stroke="#b8bcc8" stroke-width="0.8"/>
<circle cx="1685.3" cy="2.6" r="8.4" fill="#dc2d18"/>
</svg>
<span class="zh" style="left:41.5px">新订单</span><span class="zh" style="left:194px">自动交易</span>
<span class="tf" style="left:944.8px">M1</span>
<span class="tf" style="left:972.8px">M5</span>
<span class="tf" style="left:1001.5px">M15</span>
<span class="tf" style="left:1029.5px">M30</span>
<span class="tf" style="left:1057.5px">H1</span>
<span class="tf" style="left:1084.7px">H4</span>
<span class="tf" style="left:1113.3px">D1</span>
<span class="tf" style="left:1142px">W1</span>
<span class="tf" style="left:1169px">MN</span>
<span style="position:absolute;left:789px;top:7.5px;font-size:6.5px;line-height:7px;color:#444;font-weight:bold">E</span>
<span style="position:absolute;left:816.5px;top:7.5px;font-size:6.5px;line-height:7px;color:#444;font-weight:bold">F</span>
<span style="position:absolute;left:837px;top:0px;font-size:12.5px;line-height:14px;color:#555;font-weight:bold">A</span>
<span style="position:absolute;left:866.5px;top:1.2px;font-size:10.5px;line-height:12px;color:#555;font-weight:bold">T</span>
<span style="position:absolute;left:1681.3px;top:-5.2px;font-size:15px;line-height:16px;color:#fff;font-family:'Liberation Serif',serif">1</span>
</div>
<div id="oct">
<div class="btn grad1" style="left:0;top:0;width:49px;height:24px;font-size:11.5px;line-height:22px;"><span style="display:inline-block;transform:scaleX(.88);transform-origin:50% 50%;margin-left:-5px">SELL</span></div>
<div style="position:absolute;left:1px;top:23px;width:44px;height:1px;background:#8f8ff8"></div>
<div class="btn grad1" style="left:164px;top:0;width:52px;height:24px;font-size:11.5px;line-height:22px;">BUY</div>
<div style="position:absolute;left:168px;top:23px;width:44px;height:1px;background:#8f8ff8"></div>
<div class="btn grad2" style="left:0;top:24px;width:106px;height:33px;"></div>
<div class="btn grad2" style="left:108px;top:24px;width:108px;height:33px;"></div>
<div style="position:absolute;left:51px;top:0px;width:110px;height:21px;background:#fff;border:1px solid #b9b9b9;box-sizing:border-box;"></div>
<div style="position:absolute;left:53px;top:2px;width:18px;height:17px;background:linear-gradient(#f2f2f2,#d4d4d4);border:1px solid #c4c4c4;box-sizing:border-box;"></div>
<div style="position:absolute;left:141px;top:2px;width:18px;height:17px;background:linear-gradient(#f2f2f2,#d4d4d4);border:1px solid #c4c4c4;box-sizing:border-box;"></div>
<div style="position:absolute;left:72px;top:1px;width:1px;height:19px;background:#c4c4c4"></div><div style="position:absolute;left:140px;top:1px;width:1px;height:19px;background:#c4c4c4"></div>
<svg width="216" height="57" style="position:absolute;left:0;top:0"><path d="M59,9 h5 l-2.5,3z" fill="#5a6ad0"/><path d="M147.5,12 h5 l-2.5,-3z" fill="#5a6ad0"/></svg>
<div style="position:absolute;left:74px;top:3px;width:63px;text-align:right;font-size:11.5px;line-height:14px;color:#000;">1.00</div>
<div style="position:absolute;left:20.5px;top:41.5px;font-size:12px;line-height:12px;font-weight:bold;color:#fff;">151</div>
<div style="position:absolute;left:45px;top:21.3px;font-size:33px;line-height:36px;color:#fff;letter-spacing:-1.5px;">30</div>
<div style="position:absolute;left:84px;top:26px;font-size:12.5px;line-height:12px;font-weight:bold;color:#fff;">0</div>
<div style="position:absolute;left:130.5px;top:41.5px;font-size:12px;line-height:12px;font-weight:bold;color:#fff;">151</div>
<div style="position:absolute;left:155px;top:21.3px;font-size:33px;line-height:36px;color:#fff;letter-spacing:-1.5px;">41</div>
<div style="position:absolute;left:194.5px;top:26px;font-size:12.5px;line-height:12px;font-weight:bold;color:#fff;">8</div>
</div>
</body></html>
